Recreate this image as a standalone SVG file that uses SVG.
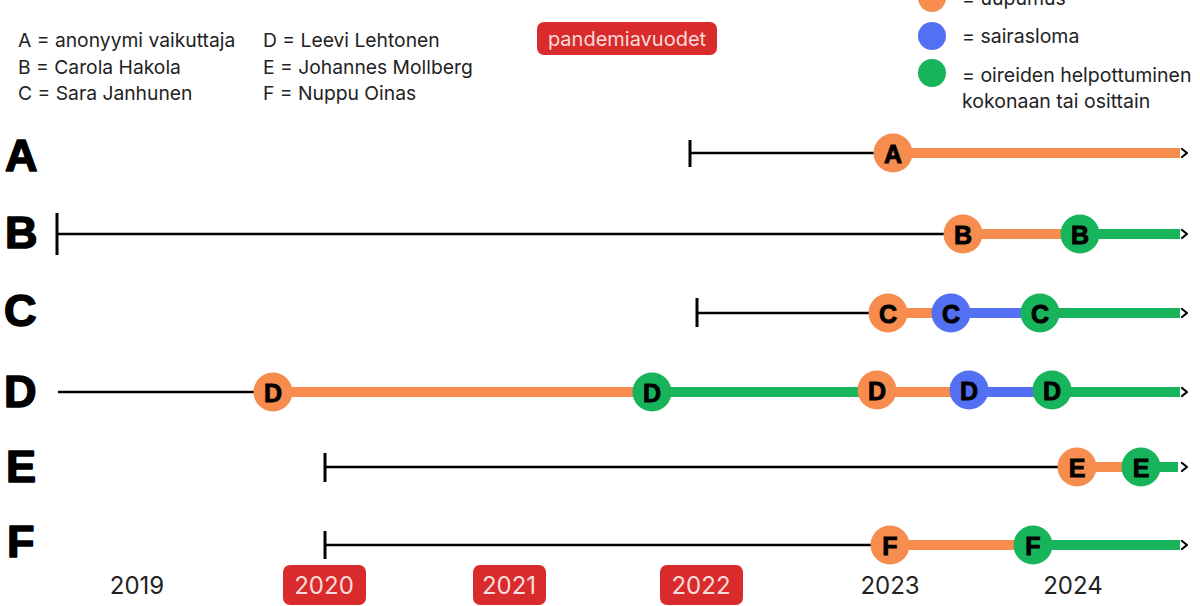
<svg xmlns="http://www.w3.org/2000/svg" width="1200" height="606" viewBox="0 0 1200 606">
<defs>
<style>
.leg{font-family:Inter,"Liberation Sans",sans-serif;font-size:19.3px;fill:#222}
.leg2{font-family:Inter,"Liberation Sans",sans-serif;font-size:19.5px;fill:#222}
.row{font-family:"Liberation Sans",Arial,sans-serif;font-weight:bold;font-size:45px;fill:#000;stroke:#000;stroke-width:1.6;stroke-linejoin:round}
.nl{font-family:"Liberation Sans",Arial,sans-serif;font-weight:bold;font-size:25px;fill:#000;stroke:#000;stroke-width:0.9;text-anchor:middle;dominant-baseline:central}
.yr{font-family:Inter,"Liberation Sans",sans-serif;font-size:24px;fill:#222;text-anchor:middle}
.yrp{font-family:Inter,"Liberation Sans",sans-serif;font-size:24px;fill:#fbdcdc;text-anchor:middle}
.blk{stroke:#000;stroke-width:2.5;fill:none}
.tick{stroke:#000;stroke-width:3;fill:none}
.o{stroke:#f68c4e;stroke-width:10;fill:none}
.b{stroke:#5370f2;stroke-width:10;fill:none}
.g{stroke:#17b45c;stroke-width:10;fill:none}
.co{fill:#f68c4e}
.cb{fill:#5370f2}
.cg{fill:#17b45c}
.red{fill:#d92b2b}
.arr{stroke:#000;stroke-width:2.2;fill:none;stroke-linecap:round;stroke-linejoin:round}
</style>
</defs>

<g id="legend-names">
<text class="leg" x="18" y="47">A = anonyymi vaikuttaja</text>
<text class="leg" x="18" y="74">B = Carola Hakola</text>
<text class="leg" x="18" y="100">C = Sara Janhunen</text>
<text class="leg" x="263" y="47">D = Leevi Lehtonen</text>
<text class="leg" x="263" y="74">E = Johannes Mollberg</text>
<text class="leg" x="263" y="100">F = Nuppu Oinas</text>
</g>

<g id="legend-pandemic">
<rect class="red" x="537" y="22" width="180" height="33" rx="7"/>
<text class="yrp" x="627" y="46" style="font-size:20px">pandemiavuodet</text>
</g>

<g id="legend-colors">
<circle class="co" cx="932" cy="-2" r="14"/>
<text class="leg2" x="962" y="5">= uupumus</text>
<circle class="cb" cx="932" cy="36" r="14"/>
<text class="leg2" x="962" y="43">= sairasloma</text>
<circle class="cg" cx="932" cy="73" r="14"/>
<text class="leg2" x="962" y="82">= oireiden helpottuminen</text>
<text class="leg2" x="962" y="108">kokonaan tai osittain</text>
</g>

<g id="row-labels">
<text class="row" x="5" y="171">A</text>
<text class="row" x="5" y="248">B</text>
<text class="row" x="4" y="326">C</text>
<text class="row" x="4" y="407">D</text>
<text class="row" x="6" y="482">E</text>
<text class="row" x="7" y="557">F</text>
</g>

<g id="connectors">
<!-- A -->
<line class="tick" x1="690" y1="140" x2="690" y2="167"/>
<line class="blk" x1="690" y1="153" x2="880" y2="153"/>
<line class="o" x1="893" y1="153" x2="1180" y2="153"/>
<path class="arr" d="M1182,149 L1187,153 L1182,157"/>
<!-- B -->
<line class="tick" x1="57" y1="213" x2="57" y2="255"/>
<line class="blk" x1="57" y1="234" x2="950" y2="234"/>
<line class="o" x1="963" y1="234" x2="1080" y2="234"/>
<line class="g" x1="1080" y1="234" x2="1180" y2="234"/>
<path class="arr" d="M1182,230 L1187,234 L1182,238"/>
<!-- C -->
<line class="tick" x1="697" y1="298" x2="697" y2="327"/>
<line class="blk" x1="697" y1="313" x2="875" y2="313"/>
<line class="o" x1="888" y1="313" x2="951" y2="313"/>
<line class="b" x1="951" y1="313" x2="1040" y2="313"/>
<line class="g" x1="1040" y1="313" x2="1180" y2="313"/>
<path class="arr" d="M1182,309 L1187,313 L1182,317"/>
<!-- D -->
<line class="blk" x1="58" y1="392" x2="260" y2="392"/>
<line class="o" x1="273" y1="392" x2="652" y2="392"/>
<line class="g" x1="652" y1="392" x2="877" y2="392"/>
<line class="o" x1="877" y1="392" x2="969" y2="392"/>
<line class="b" x1="969" y1="392" x2="1052" y2="392"/>
<line class="g" x1="1052" y1="392" x2="1180" y2="392"/>
<path class="arr" d="M1182,388 L1187,392 L1182,396"/>
<!-- E -->
<line class="tick" x1="325" y1="453" x2="325" y2="482"/>
<line class="blk" x1="325" y1="467" x2="1065" y2="467"/>
<line class="o" x1="1077" y1="467" x2="1141" y2="467"/>
<line class="g" x1="1141" y1="467" x2="1178" y2="467"/>
<path class="arr" d="M1182,463 L1187,467 L1182,471"/>
<!-- F -->
<line class="tick" x1="325" y1="531" x2="325" y2="559"/>
<line class="blk" x1="325" y1="545" x2="877" y2="545"/>
<line class="o" x1="890" y1="545" x2="1033" y2="545"/>
<line class="g" x1="1033" y1="545" x2="1180" y2="545"/>
<path class="arr" d="M1182,541 L1187,545 L1182,549"/>
</g>

<g id="node-A1"><circle class="co" cx="893" cy="153" r="19.5"/><text class="nl" x="893" y="154">A</text></g>
<g id="node-B1"><circle class="co" cx="963" cy="234" r="19.5"/><text class="nl" x="963" y="235">B</text></g>
<g id="node-B2"><circle class="cg" cx="1080" cy="234" r="19.5"/><text class="nl" x="1080" y="235">B</text></g>
<g id="node-C1"><circle class="co" cx="888" cy="313" r="19.5"/><text class="nl" x="888" y="314">C</text></g>
<g id="node-C2"><circle class="cb" cx="951" cy="313" r="19.5"/><text class="nl" x="951" y="314">C</text></g>
<g id="node-C3"><circle class="cg" cx="1040" cy="313" r="19.5"/><text class="nl" x="1040" y="314">C</text></g>
<g id="node-D1"><circle class="co" cx="273" cy="392" r="19.5"/><text class="nl" x="273" y="393">D</text></g>
<g id="node-D2"><circle class="cg" cx="652" cy="392" r="19.5"/><text class="nl" x="652" y="393">D</text></g>
<g id="node-D3"><circle class="co" cx="877" cy="390" r="19.5"/><text class="nl" x="877" y="391">D</text></g>
<g id="node-D4"><circle class="cb" cx="969" cy="390" r="19.5"/><text class="nl" x="969" y="391">D</text></g>
<g id="node-D5"><circle class="cg" cx="1052" cy="390" r="19.5"/><text class="nl" x="1052" y="391">D</text></g>
<g id="node-E1"><circle class="co" cx="1077" cy="467" r="19.5"/><text class="nl" x="1077" y="468">E</text></g>
<g id="node-E2"><circle class="cg" cx="1141" cy="467" r="19.5"/><text class="nl" x="1141" y="468">E</text></g>
<g id="node-F1"><circle class="co" cx="890" cy="545" r="19.5"/><text class="nl" x="890" y="546">F</text></g>
<g id="node-F2"><circle class="cg" cx="1033" cy="545" r="19.5"/><text class="nl" x="1033" y="546">F</text></g>

<g id="years">
<text class="yr" x="137" y="594">2019</text>
<rect class="red" x="283" y="565" width="83" height="40" rx="7"/>
<text class="yrp" x="324" y="594">2020</text>
<rect class="red" x="473" y="565" width="73" height="40" rx="7"/>
<text class="yrp" x="509" y="594">2021</text>
<rect class="red" x="660" y="565" width="83" height="40" rx="7"/>
<text class="yrp" x="701" y="594">2022</text>
<text class="yr" x="890" y="594">2023</text>
<text class="yr" x="1073" y="594">2024</text>
</g>
</svg>
